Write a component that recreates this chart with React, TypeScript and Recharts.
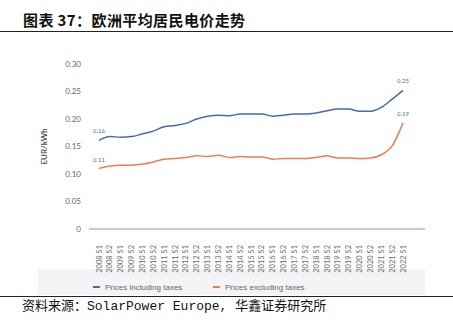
import React from "react";
import { LabelList, Legend, Line, LineChart, XAxis, YAxis } from "recharts";

const periods = [
  "2008 S1", "2008 S2", "2009 S1", "2009 S2", "2010 S1", "2010 S2",
  "2011 S1", "2011 S2", "2012 S1", "2012 S2", "2013 S1", "2013 S2",
  "2014 S1", "2014 S2", "2015 S1", "2015 S2", "2016 S1", "2016 S2",
  "2017 S1", "2017 S2", "2018 S1", "2018 S2", "2019 S1", "2019 S2",
  "2020 S1", "2020 S2", "2021 S1", "2021 S2", "2022 S1",
];

const inclTaxes = [
  0.161, 0.168, 0.167, 0.168, 0.173, 0.178, 0.186, 0.188, 0.192, 0.2,
  0.205, 0.207, 0.206, 0.209, 0.209, 0.209, 0.205, 0.207, 0.209, 0.209,
  0.211, 0.215, 0.218, 0.218, 0.214, 0.214, 0.221, 0.236, 0.252,
];

const exclTaxes = [
  0.11, 0.1145, 0.116, 0.116, 0.118, 0.122, 0.127, 0.128, 0.13, 0.133,
  0.132, 0.134, 0.13, 0.132, 0.131, 0.131, 0.127, 0.128, 0.128, 0.128,
  0.13, 0.133, 0.129, 0.129, 0.128, 0.129, 0.135, 0.151, 0.193,
];

const yTicks = [0, 0.05, 0.1, 0.15, 0.2, 0.25, 0.3];

const BLUE = "#4a6aa6";
const ORANGE = "#f07d4c";

const data = periods.map((p, i) => ({
  period: p,
  incl: inclTaxes[i],
  excl: exclTaxes[i],
}));

const XTick = (props: any) => {
  const { x, y, payload } = props;
  const ty = y + 8;
  return (
    <text
      x={x}
      y={ty}
      transform={`rotate(-90 ${x} ${ty})`}
      textAnchor="end"
      dominantBaseline="central"
      fontSize={7.5}
      fill="#6b6b6b"
    >
      {payload.value}
    </text>
  );
};

// only first and last points carry a value label
const EndLabel = (props: any) => {
  const { x, y, value, index } = props;
  if (index !== 0 && index !== periods.length - 1) return null;
  return (
    <text x={x} y={y - 7} textAnchor="middle" fontSize={6} fill="#666">
      {Number(value).toFixed(2)}
    </text>
  );
};

const LegendContent = () => (
  <div
    style={{
      display: "flex",
      alignItems: "center",
      height: 18,
      paddingLeft: 93,
      fontSize: 8,
      color: "#666",
      fontFamily: "'Liberation Sans', sans-serif",
    }}
  >
    <span style={{ width: 7, height: 1.5, background: BLUE, marginRight: 5 }} />
    <span style={{ width: 108 }}>Prices including taxes</span>
    <span style={{ width: 7, height: 1.5, background: ORANGE, marginRight: 5 }} />
    <span>Prices excluding taxes</span>
  </div>
);

export default function App() {
  return (
    <div
      style={{
        position: "absolute",
        left: 0,
        top: 0,
        width: 453,
        height: 329,
        background: "#fff",
        overflow: "hidden",
      }}
    >
      <div
        style={{
          position: "absolute",
          left: 23,
          top: 10,
          lineHeight: "20px",
          fontSize: 15,
          fontWeight: 700,
          letterSpacing: 0.4,
          fontFamily: "'Noto Sans CJK SC', sans-serif",
          color: "#111",
          whiteSpace: "nowrap",
        }}
      >
        图表 37：欧洲平均居民电价走势
      </div>
      <div style={{ position: "absolute", left: 0, top: 31, width: 453, height: 1, background: "#222" }} />
      <div style={{ position: "absolute", left: 38, top: 269, width: 387, height: 26, background: "#f4f4f6" }} />
      <div style={{ position: "absolute", left: 0, top: 35 }}>
        <LineChart
          width={453}
          height={261}
          data={data}
          margin={{ top: 29, right: 28, left: 0, bottom: 0 }}
          style={{ fontFamily: "Lato, 'Liberation Sans', sans-serif" }}
        >
          <XAxis
            dataKey="period"
            interval={0}
            height={49}
            padding={{ left: 10, right: 22 }}
            stroke="#8c96a3"
            tickLine={false}
            tick={<XTick />}
          />
          <YAxis
            width={89}
            domain={[0, 0.3]}
            ticks={yTicks}
            axisLine={false}
            tickLine={false}
            tickSize={0}
            tickMargin={8}
            tick={{ fontSize: 8, fill: "#666" }}
            tickFormatter={(v: number) => (v === 0 ? "0" : v.toFixed(2))}
            label={{
              value: "EUR/kWh",
              angle: -90,
              position: "insideLeft",
              offset: 44,
              style: { textAnchor: "middle", fontSize: 8, fill: "#444", fontWeight: 600 },
            }}
          />
          <Legend verticalAlign="bottom" height={18} wrapperStyle={{ left: 0, bottom: 0, width: 453, height: 18 }} content={<LegendContent />} />
          <Line type="monotone" dataKey="incl" stroke={BLUE} strokeWidth={1.5} dot={false} isAnimationActive={false}>
            <LabelList dataKey="incl" content={<EndLabel />} />
          </Line>
          <Line type="monotone" dataKey="excl" stroke={ORANGE} strokeWidth={1.5} dot={false} isAnimationActive={false}>
            <LabelList dataKey="excl" content={<EndLabel />} />
          </Line>
        </LineChart>
      </div>
      <div style={{ position: "absolute", left: 0, top: 296, width: 453, height: 1, background: "#222" }} />
      <div
        style={{
          position: "absolute",
          left: 22,
          top: 298,
          lineHeight: "18px",
          fontSize: 13,
          fontFamily: "'Liberation Mono', 'Noto Sans CJK SC', monospace",
          color: "#111",
          whiteSpace: "nowrap",
        }}
      >
        资料来源：SolarPower Europe, 华鑫证券研究所
      </div>
    </div>
  );
}
